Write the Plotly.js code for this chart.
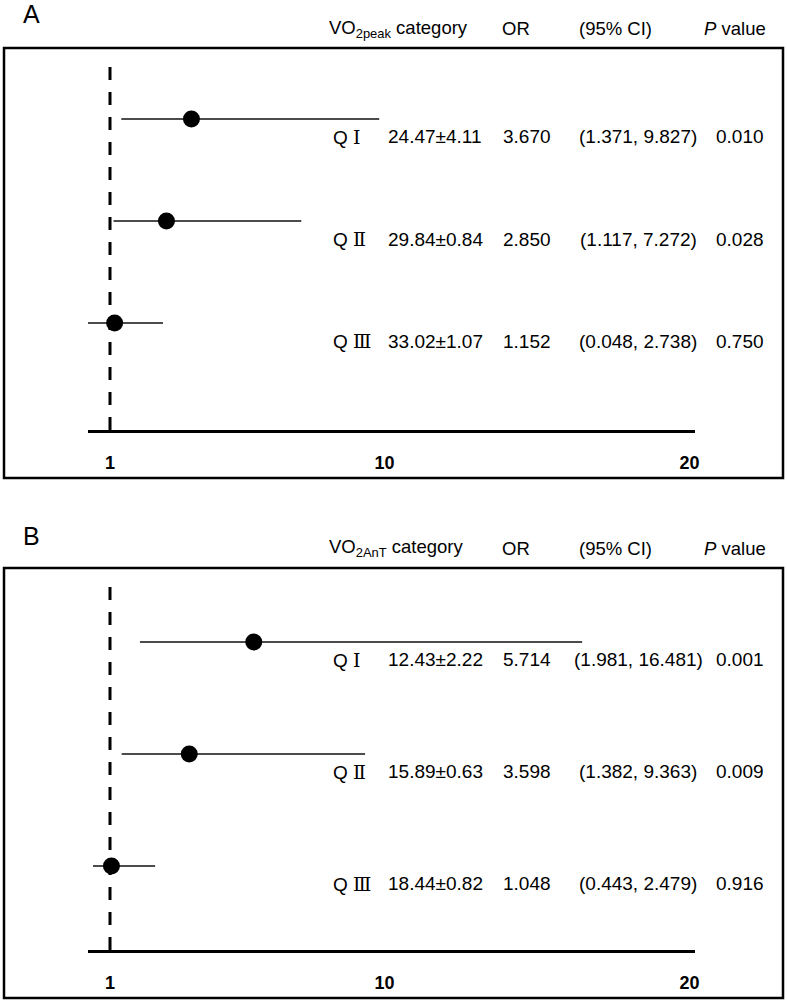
<!DOCTYPE html>
<html>
<head>
<meta charset="utf-8">
<script src="https://cdn.plot.ly/plotly-3.0.1.min.js"></script>
<style>html,body{margin:0;padding:0;background:#fff;}#chart{width:787px;height:1003px;}</style>
</head>
<body>
<div id="chart"></div>
<script>
// ---- Data ----
const rowQ = ['\u2160', '\u2161', '\u2162'];   // Q I, Q II, Q III

const meanA = ['24.47\u00b14.11', '29.84\u00b10.84', '33.02\u00b11.07'];
const orA   = [3.670, 2.850, 1.152];
const lowA  = [1.371, 1.117, 0.048];
const highA = [9.827, 7.272, 2.738];
const pA    = ['0.010', '0.028', '0.750'];

const meanB = ['12.43\u00b12.22', '15.89\u00b10.63', '18.44\u00b10.82'];
const orB   = [5.714, 3.598, 1.048];
const lowB  = [1.981, 1.382, 0.443];
const highB = [16.481, 9.363, 2.479];
const pB    = ['0.001', '0.009', '0.916'];

const tickVals = [1, 10, 20];
const tickText = ['1', '10', '20'];

// ---- Layout helpers ----
const W = 787, H = 1003;
const FONT = 'Liberation Sans, Arial, sans-serif';
const px = x => x / W;
const py = y => 1 - y / H;
const rowY = [3, 2, 1];

function trace(or, lo, hi, xa, ya) {
  return {
    type: 'scatter', mode: 'markers',
    x: or, y: rowY, xaxis: xa, yaxis: ya,
    marker: {size: 17, color: '#000'},
    error_x: {
      type: 'data', symmetric: false,
      array: or.map((v, i) => hi[i] - v),
      arrayminus: or.map((v, i) => v - lo[i]),
      width: 0, thickness: 1.5, color: '#111'
    },
    showlegend: false, hoverinfo: 'skip'
  };
}

const data = [
  trace(orA, lowA, highA, 'x', 'y'),
  trace(orB, lowB, highB, 'x2', 'y2')
];

const xCommon = {
  domain: [px(88), px(695)],
  range: [0.2787, 20.18],
  showline: true, linewidth: 3, linecolor: '#000',
  showgrid: false, zeroline: false,
  ticks: '', tickvals: tickVals,
  ticktext: tickText.map(t => '<b>' + t + '</b>'),
  tickfont: {family: FONT, size: 18, color: '#000'},
  ticklabelstandoff: 14,
  fixedrange: true
};
const yHidden = {visible: false, showgrid: false, zeroline: false, fixedrange: true};

const annotations = [];
const txt = {family: FONT, size: 19, color: '#000'};
const hdr = {family: FONT, size: 18.5, color: '#000'};
function panel(label, labelY, headerY, subTxt, mean, or, lo, hi, p, yref) {
  annotations.push({xref: 'paper', yref: 'paper', x: px(31), y: py(labelY), text: label,
    showarrow: false, xanchor: 'center', yanchor: 'middle', font: {family: FONT, size: 25, color: '#000'}});
  annotations.push({xref: 'paper', yref: 'paper', x: px(327), y: py(headerY),
    text: 'VO<sub>' + subTxt + '</sub> category', showarrow: false, xanchor: 'left', yanchor: 'middle', font: hdr});
  annotations.push({xref: 'paper', yref: 'paper', x: px(516), y: py(headerY), text: 'OR',
    showarrow: false, xanchor: 'center', yanchor: 'middle', font: hdr});
  annotations.push({xref: 'paper', yref: 'paper', x: px(615), y: py(headerY), text: '(95% CI)',
    showarrow: false, xanchor: 'center', yanchor: 'middle', font: hdr});
  annotations.push({xref: 'paper', yref: 'paper', x: px(735), y: py(headerY), text: '<i>P</i> value',
    showarrow: false, xanchor: 'center', yanchor: 'middle', font: hdr});
  for (let i = 0; i < rowQ.length; i++) {
    const base = {xref: 'paper', yref: yref, y: rowY[i], yshift: -18, showarrow: false, yanchor: 'middle', font: txt};
    annotations.push(Object.assign({}, base, {x: px(331), xanchor: 'left',
      text: 'Q <span style="font-family:\'DejaVu Serif\', serif;">' + rowQ[i] + '</span>'}));
    annotations.push(Object.assign({}, base, {x: px(435), xanchor: 'center', text: mean[i]}));
    annotations.push(Object.assign({}, base, {x: px(527), xanchor: 'center', text: or[i].toFixed(3)}));
    annotations.push(Object.assign({}, base, {x: px(638), xanchor: 'center',
      text: '(' + lo[i].toFixed(3) + ', ' + hi[i].toFixed(3) + ')'}));
    annotations.push(Object.assign({}, base, {x: px(740), xanchor: 'center', text: p[i]}));
  }
}
panel('A', 14, 29, '2peak', meanA, orA, lowA, highA, pA, 'y');
panel('B', 536, 548, '2AnT', meanB, orB, lowB, highB, pB, 'y2');

const shapes = [
  {type: 'rect', xref: 'paper', yref: 'paper', x0: px(4), x1: px(783), y0: py(478), y1: py(48),
    line: {color: '#000', width: 2.5}, fillcolor: 'rgba(0,0,0,0)', layer: 'below'},
  {type: 'rect', xref: 'paper', yref: 'paper', x0: px(4), x1: px(783), y0: py(998), y1: py(568),
    line: {color: '#000', width: 2.5}, fillcolor: 'rgba(0,0,0,0)', layer: 'below'},
  {type: 'line', xref: 'x', yref: 'y domain', x0: 1, x1: 1, y0: 0, y1: 0.974,
    line: {color: '#000', width: 3, dash: '13px,12px'}, layer: 'below'},
  {type: 'line', xref: 'x2', yref: 'y2 domain', x0: 1, x1: 1, y0: 0, y1: 0.974,
    line: {color: '#000', width: 3, dash: '13px,12px'}, layer: 'below'}
];

const layout = {
  width: W, height: H,
  margin: {l: 0, r: 0, t: 0, b: 0, pad: 0},
  paper_bgcolor: '#fff', plot_bgcolor: 'rgba(0,0,0,0)',
  showlegend: false,
  xaxis: Object.assign({}, xCommon, {anchor: 'y'}),
  xaxis2: Object.assign({}, xCommon, {anchor: 'y2'}),
  yaxis: Object.assign({}, yHidden, {domain: [py(430), py(48)], range: [-0.049, 3.696]}),
  yaxis2: Object.assign({}, yHidden, {domain: [py(950), py(568)], range: [0.25, 3.66]}),
  annotations: annotations,
  shapes: shapes
};

Plotly.newPlot('chart', data, layout, {displayModeBar: false, staticPlot: true});
</script>
</body>
</html>
